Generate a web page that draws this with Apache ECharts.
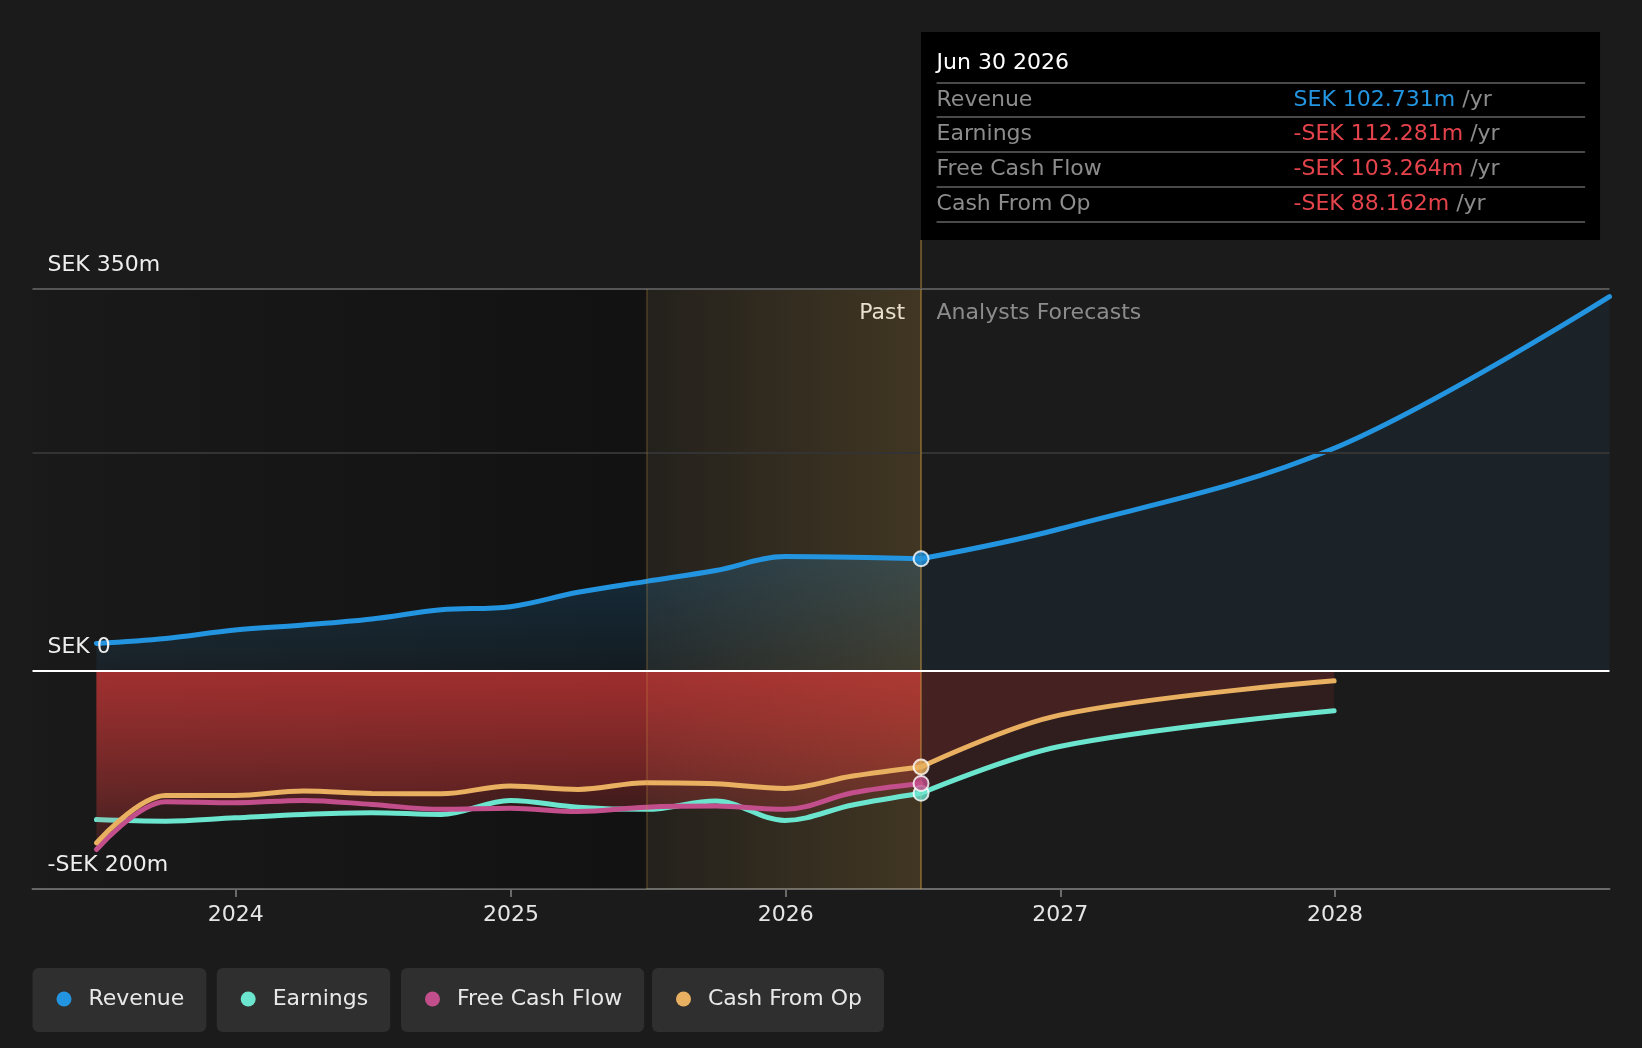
<!DOCTYPE html>
<html>
<head>
<meta charset="utf-8">
<script src="https://cdn.jsdelivr.net/npm/echarts@6/dist/echarts.min.js"></script>
<style>
html, body { margin: 0; padding: 0; background: #1b1b1b; }
#chart { width: 1642px; height: 1048px; }
</style>
</head>
<body>
<div id="chart"></div>
<script>
// data (SEK m, trailing twelve months)
const pastDates = ['2023-06-30', '2023-09-30', '2023-12-31', '2024-03-31', '2024-06-30', '2024-09-30', '2024-12-31', '2025-03-31', '2025-06-30', '2025-09-30', '2025-12-31', '2026-03-31', '2026-06-30']
const revenuePast = [25.1, 29.7, 37.5, 42, 47.5, 56, 58.8, 72, 82, 91.9, 104.7, 104.1, 102.731]
const earningsPast = [-136.3, -137.8, -134.7, -131.7, -130, -131.7, -118.8, -125, -127, -119.4, -137.2, -123, -112.281]
const fcfPast = [-163.8, -120, -121, -118.8, -122.5, -127, -126, -129, -125, -124, -127, -111.8, -103.264]
const cfoPast = [-157.7, -114.2, -114.2, -110.2, -112.4, -112.7, -105.6, -108.7, -102.6, -103.5, -107.8, -96.5, -88.162]

const revenueFcDates = ['2026-06-30', '2026-12-31', '2027-12-31', '2028-12-31']
const revenueFc = [102.731, 130, 204, 343]
const otherFcDates = ['2026-06-30', '2026-12-31', '2027-12-31']
const earningsFc = [-112.281, -69.4, -36.7]
const cfoFc = [-88.162, -40.6, -9.2]

const yLabelValues = [-200, 0, 350]
const yearTicks = [2024, 2025, 2026, 2027, 2028]
const tipDate = 'Jun 30 2026'

const FONT = 'DejaVu Sans'
const FS = 22
const BLUE = '#2394df'
const TEAL = '#6ce5cf'
const PINK = '#c24f8c'
const ORANGE = '#e8b060'
const RED = '#e5434b'

const ts = s => { const [y, m, d] = s.split('-').map(Number); return new Date(y, m - 1, d).getTime() }
const zip = (xs, ys) => xs.map((x, i) => [ts(x), ys[i]])
const fmtSEK = v => (v < 0 ? '-SEK ' : 'SEK ') + Math.abs(v).toFixed(3) + 'm'
const yearStarts = yearTicks.map(y => new Date(y, 0, 1).getTime())

const chart = echarts.init(document.getElementById('chart'))

const redArea = (a0, a1) => ({
	color: new echarts.graphic.LinearGradient(0, 0, 0, 1, [
		{ offset: 0, color: 'rgba(222,58,58,' + a0 + ')' },
		{ offset: 1, color: 'rgba(222,58,58,' + a1 + ')' },
	]),
	origin: 'auto',
})

const lineSeries = (name, color, data, area, z) => ({
	name,
	type: 'line',
	data,
	smooth: 0.35,
	showSymbol: false,
	silent: true,
	z: z || 3,
	itemStyle: { color },
	lineStyle: { color, width: 5, cap: 'round' },
	areaStyle: area,
})

chart.setOption({
	backgroundColor: '#1b1b1b',
	animation: false,
	textStyle: { fontFamily: FONT },
	grid: { left: 32.5, right: 32.5, top: 289, bottom: 159 },
	xAxis: {
		type: 'value',
		min: ts('2023-04-06'),
		max: ts('2028-12-31'),
		splitLine: { show: false },
		axisLine: { onZero: false, lineStyle: { color: '#6a6a6a', width: 2 } },
		axisTick: { show: true, length: 8, lineStyle: { color: '#6a6a6a', width: 2 }, customValues: yearStarts },
		axisLabel: {
			color: '#e6e6e6', fontSize: FS, fontFamily: FONT, margin: 15,
			customValues: yearStarts,
			formatter: v => String(new Date(v).getFullYear()),
		},
	},
	yAxis: {
		type: 'value',
		min: -200,
		max: 350,
		interval: 50,
		z: 20,
		splitLine: { show: false },
		axisLine: { show: false },
		axisTick: { show: false },
		axisLabel: {
			inside: true,
			margin: 15,
			align: 'left',
			verticalAlign: 'bottom',
			lineHeight: 48,
			color: '#eeeeee',
			fontSize: FS,
			fontFamily: FONT,
			customValues: yLabelValues,
			formatter: v => v === 0 ? 'SEK 0' : (v < 0 ? '-SEK ' + Math.abs(v) + 'm' : 'SEK ' + v + 'm'),
		},
	},
	legend: [
		['Revenue', 32.5],
		['Earnings', 216.7],
		['Free Cash Flow', 401],
		['Cash From Op', 652],
	].map(([name, left]) => ({
		data: [name],
		left,
		top: 968,
		icon: 'circle',
		itemWidth: 15,
		itemHeight: 15,
		selectedMode: false,
		backgroundColor: '#2f2f2f',
		borderRadius: 6,
		padding: [20, 22, 22, 24],
		textStyle: { color: '#e8e8e8', fontSize: FS, fontFamily: FONT, lineHeight: 22, padding: [0, 0, 0, 12] },
	})),
	series: [
		{
			type: 'line', data: [], z: 0, silent: true,
			markArea: {
				silent: true,
				itemStyle: {
					color: new echarts.graphic.LinearGradient(0, 0, 1, 0, [
						{ offset: 0, color: 'rgba(0,0,0,0.06)' },
						{ offset: 1, color: 'rgba(0,0,0,0.35)' },
					]),
				},
				data: [[{ xAxis: ts('2023-04-06') }, { xAxis: ts('2025-06-30') }]],
			},
			markLine: {
				silent: true, symbol: 'none', label: { show: false },
				data: [
					{ yAxis: 350, lineStyle: { color: '#555555', width: 2, type: 'solid' } },
					{ yAxis: 200, lineStyle: { color: '#333333', width: 2, type: 'solid' } },
				],
			},
		},
		lineSeries('Revenue', BLUE, zip(pastDates, revenuePast), {
			color: new echarts.graphic.LinearGradient(0, 0, 0, 1, [
				{ offset: 0, color: 'rgba(35,148,223,0.3)' },
				{ offset: 1, color: 'rgba(35,148,223,0.1)' },
			]),
			origin: 'auto',
		}, 4),
		lineSeries('Revenue', BLUE, zip(revenueFcDates, revenueFc), { color: 'rgba(35,148,223,0.1)', origin: 'auto' }, 4),
		lineSeries('Earnings', TEAL, zip(pastDates, earningsPast), redArea(0.46, 0.12)),
		lineSeries('Earnings', TEAL, zip(otherFcDates, earningsFc), { color: 'rgba(222,58,58,0.16)', origin: 'auto' }),
		lineSeries('Free Cash Flow', PINK, zip(pastDates, fcfPast), redArea(0.46, 0.12)),
		lineSeries('Cash From Op', ORANGE, zip(pastDates, cfoPast), redArea(0.46, 0.12), 3.5),
		lineSeries('Cash From Op', ORANGE, zip(otherFcDates, cfoFc), { color: 'rgba(222,58,58,0.18)', origin: 'auto' }, 3.5),
		{
			type: 'line', data: [], z: 8, silent: true,
			markArea: {
				silent: true,
				itemStyle: {
					color: new echarts.graphic.LinearGradient(0, 0, 1, 0, [
						{ offset: 0, color: 'rgba(200,150,60,0.05)' },
						{ offset: 1, color: 'rgba(200,150,60,0.22)' },
					]),
				},
				data: [[{ xAxis: ts('2025-06-30') }, { xAxis: ts('2026-06-30') }]],
			},
			markLine: {
				silent: true, symbol: 'none', label: { show: false },
				data: [
					{ xAxis: ts('2025-06-30'), lineStyle: { color: 'rgba(200,150,60,0.2)', width: 2, type: 'solid' } },
					{ xAxis: ts('2026-06-30'), lineStyle: { color: 'rgba(200,150,60,0.45)', width: 2, type: 'solid' } },
					{ yAxis: 0, lineStyle: { color: '#ffffff', width: 2, type: 'solid' } },
				],
			},
		},
		{
			type: 'scatter', z: 10, silent: true,
			symbolSize: 15,
			itemStyle: { borderColor: '#ffffff', borderWidth: 2 },
			data: [
				{ value: [ts(pastDates[12]), earningsPast[12]], itemStyle: { color: TEAL } },
				{ value: [ts(pastDates[12]), fcfPast[12]], itemStyle: { color: PINK } },
				{ value: [ts(pastDates[12]), cfoPast[12]], itemStyle: { color: ORANGE } },
				{ value: [ts(pastDates[12]), revenuePast[12]], itemStyle: { color: BLUE } },
			],
		},
	],
})

// tooltip-like box and past / forecast labels
const lineX = chart.convertToPixel({ xAxisIndex: 0 }, ts('2026-06-30'))
const gridTop = 289
const rows = [
	['Revenue', revenuePast[12], BLUE],
	['Earnings', earningsPast[12], RED],
	['Free Cash Flow', fcfPast[12], RED],
	['Cash From Op', cfoPast[12], RED],
]
const boxL = lineX, boxT = 32, boxW = 679, boxH = 208
const sepY = [83, 117, 152, 187, 222]
const graphic = [
	{ type: 'line', silent: true, shape: { x1: lineX, y1: boxT + boxH, x2: lineX, y2: gridTop }, style: { stroke: 'rgba(200,150,60,0.45)', lineWidth: 2 } },
	{ type: 'rect', silent: true, shape: { x: boxL, y: boxT, width: boxW, height: boxH }, style: { fill: '#000000' } },
	{ type: 'text', silent: true, x: boxL + 15.5, y: 63, style: { text: tipDate, fill: '#ffffff', fontSize: FS, fontFamily: FONT, textVerticalAlign: 'middle' } },
	{ type: 'text', silent: true, x: lineX - 16, y: 313, style: { text: 'Past', fill: '#f0f0f0', fontSize: FS, fontFamily: FONT, textAlign: 'right', textVerticalAlign: 'middle' } },
	{ type: 'text', silent: true, x: lineX + 15.5, y: 313, style: { text: 'Analysts Forecasts', fill: '#8c8c8c', fontSize: FS, fontFamily: FONT, textVerticalAlign: 'middle' } },
]
sepY.forEach(y => graphic.push({ type: 'line', silent: true, shape: { x1: boxL + 15.5, y1: y, x2: boxL + 664, y2: y }, style: { stroke: '#4a4a4a', lineWidth: 2 } }))
rows.forEach(([label, v, c], i) => {
	const y = (sepY[i] + sepY[i + 1]) / 2
	graphic.push({ type: 'text', silent: true, x: boxL + 15.5, y, style: { text: label, fill: '#8c8c8c', fontSize: FS, fontFamily: FONT, textVerticalAlign: 'middle' } })
	graphic.push({
		type: 'text', silent: true, x: boxL + 372.5, y,
		style: {
			text: '{v|' + fmtSEK(v) + '}{u| /yr}',
			fontSize: FS, fontFamily: FONT, textVerticalAlign: 'middle',
			rich: {
				v: { fill: c, fontSize: FS, fontFamily: FONT },
				u: { fill: '#8c8c8c', fontSize: FS, fontFamily: FONT },
			},
		},
	})
})
chart.setOption({ graphic })
</script>
</body>
</html>
